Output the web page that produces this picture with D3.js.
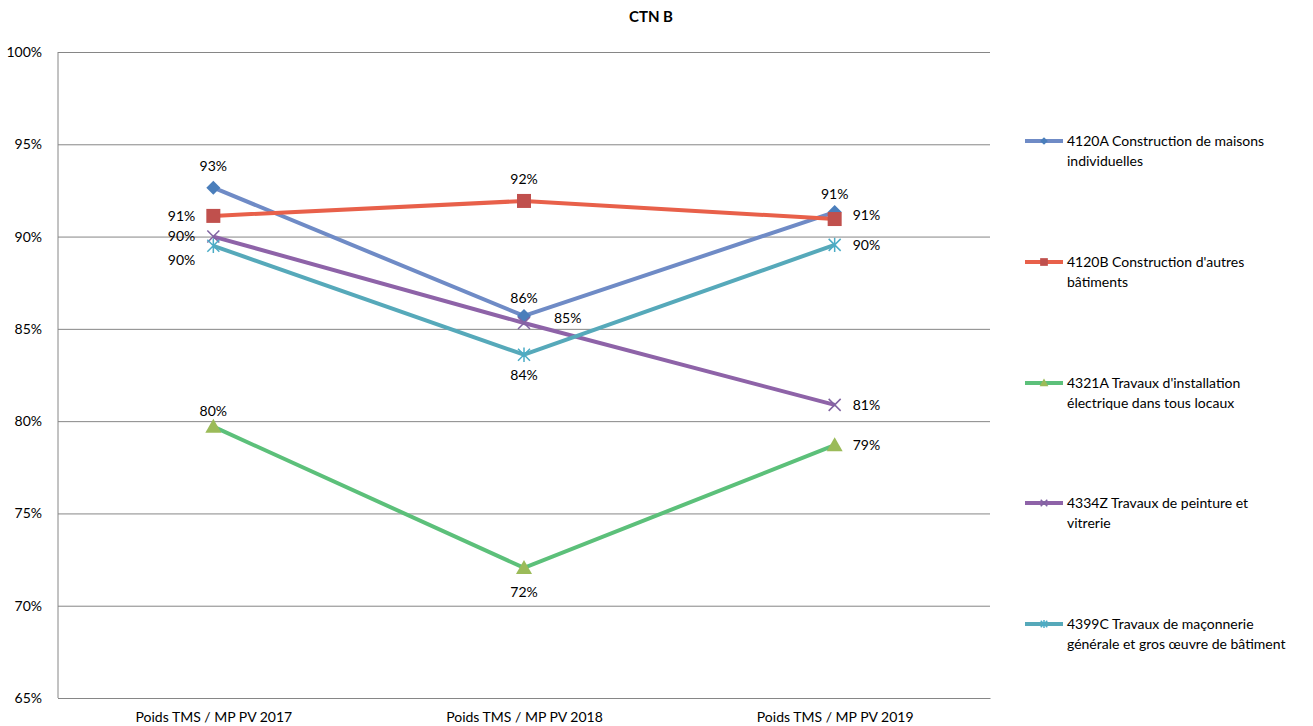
<!DOCTYPE html>
<html><head><meta charset="utf-8">
<script src="https://cdn.jsdelivr.net/npm/d3@7"></script>
<style>body{margin:0;background:#fff;} text{font-family:Lato,"Open Sans",sans-serif;}</style>
</head><body><svg id="c" width="1313" height="726"></svg>
<script>
const categories = ["Poids TMS / MP PV 2017", "Poids TMS / MP PV 2018", "Poids TMS / MP PV 2019"];
const seriesNames = ["4120A Construction de maisons individuelles", "4120B Construction d'autres bâtiments", "4321A Travaux d'installation électrique dans tous locaux", "4334Z Travaux de peinture et vitrerie", "4399C Travaux de maçonnerie générale et gros œuvre de bâtiment"];
const legendLines = [["4120A Construction de maisons","individuelles"],["4120B Construction d'autres","bâtiments"],["4321A Travaux d'installation","électrique dans tous locaux"],["4334Z Travaux de peinture et","vitrerie"],["4399C Travaux de maçonnerie","générale et gros œuvre de bâtiment"]];
const s4120A = [0.9265, 0.857, 0.9133];
const s4120B = [0.9112, 0.9193, 0.9095];
const s4321A = [0.797, 0.7205, 0.787];
const s4334Z = [0.900, 0.8532, 0.8088];
const s4399C = [0.895, 0.836, 0.8955];
const yTicks = [0.65,0.70,0.75,0.80,0.85,0.90,0.95,1.00];
const values = [s4120A, s4120B, s4321A, s4334Z, s4399C];
const lineColors = ["#6F8BC6","#E8604A","#5CC07A","#8E63A8","#56A9BA"];
const markColors = ["#4A7EBB","#C0504D","#9BBB59","#8064A2","#4BACC6"];
const markers = ["diamond","square","triangle","x","star"];
const labelPos = [
  [["c",-22],["c",-18],["c",-18]],
  [["l",0],["c",-22],["r",-4]],
  [["c",-16],["c",24],["r",0]],
  [["l",0],["r2",-5],["r",0]],
  [["l",14],["c",20],["r",0]]
];
const svg = d3.select("#c");
const L=58,R=990,T=52,B=698;
const FS=14;
const x = d3.scalePoint().domain(categories).range([L,R]).padding(0.5);
const y = d3.scaleLinear().domain([0.65,1.0]).range([B,T]);
svg.append("text").attr("x",651).attr("y",22).attr("text-anchor","middle").attr("font-size",15).attr("font-weight","bold").text("CTN B");
const gy = svg.append("g").attr("transform",`translate(${L},0)`).call(d3.axisLeft(y).tickValues(yTicks).tickSize(-(R-L)).tickFormat(d3.format(".0%")).tickPadding(16));
gy.select(".domain").remove();
gy.selectAll(".tick line").attr("stroke","#868686").attr("stroke-width",1);
gy.selectAll(".tick text").attr("font-size",FS).attr("fill","#000").attr("font-family","Lato,sans-serif");
svg.append("line").attr("x1",L).attr("x2",L).attr("y1",T).attr("y2",B).attr("stroke","#868686");
const gx = svg.append("g").attr("transform",`translate(0,${B})`).call(d3.axisBottom(x).tickSize(0).tickPadding(14));
gx.select(".domain").attr("stroke","#868686");
gx.selectAll(".tick text").attr("font-size",FS).attr("fill","#000").attr("font-family","Lato,sans-serif");
function drawMarker(g, type, cx, cy, col, scale){
  const s=scale||1;
  if(type==="diamond"){g.append("path").attr("d",`M${cx},${cy-7*s}L${cx+7*s},${cy}L${cx},${cy+7*s}L${cx-7*s},${cy}Z`).attr("fill",col);}
  else if(type==="square"){g.append("rect").attr("x",cx-7*s).attr("y",cy-7*s).attr("width",14*s).attr("height",14*s).attr("fill",col);}
  else if(type==="triangle"){g.append("path").attr("d",`M${cx},${cy-8*s}L${cx+8*s},${cy+6*s}L${cx-8*s},${cy+6*s}Z`).attr("fill",col);}
  else if(type==="x"){const r=6*s;g.append("path").attr("d",`M${cx-r},${cy-r}L${cx+r},${cy+r}M${cx-r},${cy+r}L${cx+r},${cy-r}`).attr("stroke",col).attr("stroke-width",1.5);}
  else if(type==="star"){const r=6*s;g.append("path").attr("d",`M${cx-r},${cy-r}L${cx+r},${cy+r}M${cx-r},${cy+r}L${cx+r},${cy-r}M${cx},${cy-r*1.2}L${cx},${cy+r*1.2}`).attr("stroke",col).attr("stroke-width",1.5);}
}
const line = d3.line().x((d,i)=>x(categories[i])).y(d=>y(d));
values.forEach((vals,si)=>{
  const g=svg.append("g");
  g.append("path").datum(vals).attr("d",line).attr("fill","none").attr("stroke",lineColors[si]).attr("stroke-width",4);
  vals.forEach((v,i)=>{
    drawMarker(g,markers[si],x(categories[i]),y(v),markColors[si]);
  });
});
values.forEach((vals,si)=>{
  vals.forEach((v,i)=>{
    const cx=x(categories[i]), cy=y(v);
    const [a,dy]=labelPos[si][i];
    let tx=cx, anchor="middle";
    if(a==="l"){tx=cx-18;anchor="end";}
    if(a==="r"){tx=cx+18;anchor="start";}
    if(a==="r2"){tx=cx+30;anchor="start";}
    svg.append("text").attr("x",tx).attr("y",cy+dy).attr("dy","0.35em").attr("text-anchor",anchor).attr("font-size",FS).attr("fill","#000").text(d3.format(".0%")(v));
  });
});
const legY=[141,262,383,503,624];
legendLines.forEach((ls,si)=>{
  const g=svg.append("g");
  const ly=legY[si];
  g.append("line").attr("x1",1025).attr("x2",1063).attr("y1",ly).attr("y2",ly).attr("stroke",lineColors[si]).attr("stroke-width",4);
  drawMarker(g,markers[si],1044,ly,markColors[si],0.55);
  ls.forEach((t,k)=>g.append("text").attr("x",1067).attr("y",ly+k*20).attr("dy","0.35em").attr("font-size",FS).attr("fill","#000").text(t));
});
</script></body></html>
